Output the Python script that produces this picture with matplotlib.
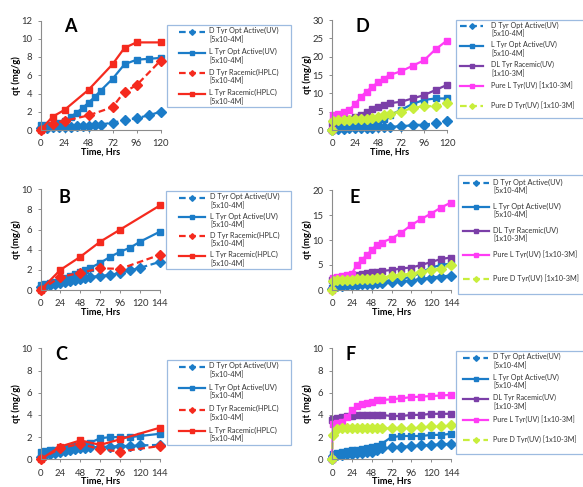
import numpy as np
import matplotlib
matplotlib.use('Agg')
import matplotlib.pyplot as plt
from matplotlib.legend_handler import HandlerLine2D
from matplotlib.font_manager import FontProperties

W, H = 583, 487
DPI = 100
plt.rcParams['font.family'] = ['Lato', 'DejaVu Sans']

# ---------------- data ----------------
# Panel A (0-120 h)
A_t_dopt = [0, 6, 12, 18, 24, 30, 36, 42, 48, 54, 60, 72, 84, 96, 108, 120]
A_q_dopt = [0.2, 0.25, 0.3, 0.3, 0.35, 0.35, 0.4, 0.4, 0.45, 0.5, 0.6, 0.8, 1.05, 1.3, 1.6, 2.0]
A_t_lopt = [0, 6, 12, 18, 24, 30, 36, 42, 48, 54, 60, 72, 84, 96, 108, 120]
A_q_lopt = [0.5, 0.55, 0.6, 0.8, 1.0, 1.4, 1.9, 2.4, 3.0, 3.6, 4.3, 5.6, 7.2, 7.7, 7.8, 7.9]
A_t_drac = [0, 12, 24, 48, 72, 84, 96, 120]
A_q_drac = [0, 0.7, 1.0, 1.6, 2.5, 4.2, 4.9, 7.6]
A_t_lrac = [0, 12, 24, 48, 72, 84, 96, 120]
A_q_lrac = [0, 1.45, 2.2, 4.4, 7.2, 9.0, 9.6, 9.6]

# Panel B (0-144 h)
B_t_opt = [0, 6, 12, 18, 24, 30, 36, 42, 48, 54, 60, 72, 84, 96, 108, 120, 144]
B_q_dopt = [0.3, 0.4, 0.5, 0.6, 0.7, 0.8, 0.9, 1.0, 1.1, 1.2, 1.3, 1.4, 1.5, 1.7, 1.95, 2.2, 2.8]
B_q_lopt = [0.5, 0.6, 0.7, 0.8, 1.0, 1.2, 1.4, 1.6, 1.8, 2.0, 2.2, 2.7, 3.3, 3.8, 4.2, 4.8, 5.8]
B_t_rac = [0, 24, 48, 72, 96, 144]
B_q_drac = [0, 1.3, 1.7, 2.15, 2.1, 3.5]
B_q_lrac = [0, 2.0, 3.3, 4.8, 6.0, 8.4]

# Panel C (0-144 h)
C_t_opt = [0, 6, 12, 18, 24, 30, 36, 42, 48, 54, 60, 72, 84, 96, 108, 120, 144]
C_q_dopt = [0.25, 0.35, 0.45, 0.55, 0.65, 0.75, 0.85, 0.9, 1.0, 1.05, 1.1, 1.1, 1.15, 1.2, 1.2, 1.25, 1.3]
C_q_lopt = [0.7, 0.75, 0.8, 0.85, 0.9, 1.0, 1.1, 1.2, 1.3, 1.4, 1.5, 1.9, 2.0, 2.0, 2.0, 2.1, 2.3]
C_t_rac = [0, 24, 48, 72, 96, 144]
C_q_drac = [0, 1.0, 1.4, 0.9, 0.7, 1.2]
C_q_lrac = [0, 1.15, 1.7, 1.3, 1.8, 2.85]

# Panel D (0-120 h)
D_t = [0, 1, 6, 12, 18, 24, 30, 36, 42, 48, 54, 60, 72, 84, 96, 108, 120]
D_q_dopt = [0, 0.3, 0.4, 0.4, 0.5, 0.5, 0.5, 0.6, 0.6, 0.7, 0.8, 0.9, 1.0, 1.3, 1.5, 1.8, 2.5]
D_q_lopt = [0, 0.5, 0.8, 1.0, 1.2, 1.5, 1.7, 2.0, 2.2, 2.5, 3.0, 4.0, 5.5, 7.1, 8.2, 8.6, 8.6]
D_q_dl = [2.0, 2.5, 2.6, 2.8, 3.0, 3.5, 4.2, 5.0, 5.6, 6.2, 6.8, 7.3, 7.7, 8.6, 9.5, 10.9, 12.3]
D_q_pl = [0, 4.0, 4.3, 4.8, 5.5, 7.0, 9.0, 10.5, 11.8, 13.0, 14.0, 15.0, 16.0, 17.5, 19.0, 22.0, 24.4]
D_q_pd = [0, 2.5, 2.7, 2.8, 2.8, 2.9, 3.0, 3.1, 3.3, 3.6, 4.0, 4.5, 5.0, 6.0, 6.5, 6.5, 7.3]

# Panel E (0-144 h)
E_t = [0, 1, 6, 12, 18, 24, 30, 36, 42, 48, 54, 60, 72, 84, 96, 108, 120, 132, 144]
E_q_dopt = [0.3, 0.5, 0.8, 0.9, 1.0, 1.0, 1.1, 1.2, 1.2, 1.3, 1.4, 1.5, 1.6, 1.8, 1.9, 2.2, 2.5, 2.7, 2.9]
E_q_lopt = [0.5, 0.7, 0.9, 1.0, 1.1, 1.3, 1.4, 1.4, 1.5, 1.5, 1.6, 1.7, 2.0, 2.3, 2.6, 3.5, 4.5, 5.0, 5.3]
E_q_dl = [2.0, 2.3, 2.5, 2.6, 2.8, 3.0, 3.1, 3.3, 3.4, 3.6, 3.7, 3.8, 4.0, 4.3, 4.5, 5.0, 5.6, 6.2, 6.5]
E_q_pl = [0, 2.5, 2.7, 2.8, 3.0, 3.3, 5.0, 6.0, 7.0, 8.0, 9.0, 9.5, 10.3, 11.5, 13.0, 14.2, 15.3, 16.5, 17.5]
E_q_pd = [0, 1.8, 2.0, 2.0, 2.1, 2.1, 2.2, 2.2, 2.3, 2.3, 2.4, 2.5, 2.8, 3.0, 3.3, 3.6, 4.0, 4.3, 5.0]

# Panel F (0-144 h)
F_t = [0, 1, 6, 12, 18, 24, 30, 36, 42, 48, 54, 60, 72, 84, 96, 108, 120, 132, 144]
F_q_dopt = [0, 0.3, 0.35, 0.4, 0.45, 0.5, 0.55, 0.6, 0.65, 0.7, 0.8, 1.0, 1.1, 1.15, 1.2, 1.25, 1.3, 1.35, 1.4]
F_q_lopt = [0, 0.5, 0.6, 0.7, 0.75, 0.8, 0.85, 0.9, 1.0, 1.1, 1.2, 1.4, 2.0, 2.1, 2.1, 2.1, 2.2, 2.2, 2.3]
F_q_dl = [3.5, 3.6, 3.7, 3.8, 3.9, 3.9, 4.0, 4.0, 4.0, 4.0, 4.0, 4.0, 3.9, 3.9, 4.0, 4.0, 4.1, 4.1, 4.1]
F_q_pl = [0, 3.2, 3.3, 3.4, 3.8, 4.4, 4.8, 5.0, 5.1, 5.2, 5.3, 5.35, 5.4, 5.5, 5.6, 5.65, 5.7, 5.75, 5.8]
F_q_pd = [0, 2.2, 2.7, 2.8, 2.8, 2.8, 2.8, 2.8, 2.8, 2.8, 2.8, 2.8, 2.8, 2.8, 2.8, 2.9, 3.0, 3.0, 3.1]

labels_left = ["D Tyr Opt Active(UV)\n[5x10-4M]", "L Tyr Opt Active(UV)\n[5x10-4M]",
               "D Tyr Racemic(HPLC)\n[5x10-4M]", "L Tyr Racemic(HPLC)\n[5x10-4M]"]
labels_right = ["D Tyr Opt Active(UV)\n[5x10-4M]", "L Tyr Opt Active(UV)\n[5x10-4M]",
                "DL Tyr Racemic(UV)\n[1x10-3M]", "Pure L Tyr(UV) [1x10-3M]\n",
                "Pure D Tyr(UV) [1x10-3M]\n"]

BLUE = '#1B7CC8'
RED = '#F52A1E'
PURPLE = '#7B3FA8'
MAGENTA = '#FF3CF5'
LIME = '#C8EE3C'
GRAY = '#8C8C8C'
TXT = '#333333'

fig = plt.figure(figsize=(W / DPI, H / DPI), dpi=DPI)
renderer = fig.canvas.get_renderer()


def px_axes(l, t, r, b):
    return fig.add_axes([l / W, 1 - b / H, (r - l) / W, (b - t) / H])


def style_axes(ax, xmax, xticks, ymax, yticks, ylabel_x, xlabel_top):
    ax.set_xlim(0, xmax)
    ax.set_ylim(0, ymax)
    ax.set_xticks(xticks)
    ax.set_yticks(yticks)
    for s in ['top', 'right']:
        ax.spines[s].set_visible(False)
    for s in ['left', 'bottom']:
        ax.spines[s].set_color(GRAY)
        ax.spines[s].set_linewidth(0.8)
    ax.tick_params(axis='both', direction='out', length=2.2, width=0.7, color=GRAY,
                   labelsize=6.8, labelcolor=TXT)
    ax.tick_params(axis='x', pad=4.5)
    ax.tick_params(axis='y', pad=4)
    ax.set_ylabel('qt (mg/g)', fontsize=6.8, fontweight='bold')
    ax.set_xlabel('Time, Hrs', fontsize=6.6, fontweight='bold')
    pos = ax.get_position()
    ax.yaxis.set_label_coords(ylabel_x / W, pos.y0 + pos.height / 2, transform=fig.transFigure)
    ax.xaxis.set_label_coords(pos.x0 + pos.width / 2, 1 - xlabel_top / H, transform=fig.transFigure)
    ax.patch.set_alpha(0)


class ShiftHandler(HandlerLine2D):
    def __init__(self, dx, dy, **kw):
        super().__init__(**kw)
        self.dx = dx
        self.dy = dy

    def create_artists(self, legend, orig_handle, xdescent, ydescent, width, height,
                       fontsize, trans):
        return super().create_artists(legend, orig_handle, xdescent - self.dx,
                                      ydescent - 2 * self.dy, width - self.dx, height,
                                      fontsize, trans)


def add_legend(handles, labels, box, fs, lspace, pad_l, hlen, gap, bpad):
    l, t, r, b = box
    fp = FontProperties(family=['Lato', 'DejaVu Sans'], size=fs)
    w_, h_, d_ = renderer.get_text_width_height_descent('lp', fp, ismath=False)
    asc_pt = (h_ - d_) * 72 / DPI
    dy = 0.5 * asc_pt * 1.2
    px2pt = 72 / DPI
    dx_pt = pad_l * px2pt - bpad * fs
    handlelength = (dx_pt + hlen * px2pt) / fs
    hmap = {}
    for hd, lb in zip(handles, labels):
        hmap[hd] = ShiftHandler(dx_pt, dy if '\n' in lb else 0, numpoints=1)
    leg = fig.legend(handles, labels, loc='upper left',
                     bbox_to_anchor=(l / W, 1 - t / H - 0.01, (r - l) / W, 0.01),
                     bbox_transform=fig.transFigure, mode='expand', borderaxespad=0,
                     prop=fp, labelspacing=lspace, handlelength=handlelength,
                     handletextpad=gap * px2pt / fs, borderpad=bpad, markerscale=0.55,
                     frameon=True, fancybox=False, handler_map=hmap,
                     labelcolor=TXT)
    fr = leg.get_frame()
    fr.set_edgecolor('#9DBBE0')
    fr.set_linewidth(0.9)
    fr.set_facecolor('white')
    fr.set_alpha(1)
    return leg


def series(ax, t, q, color, marker, dashed):
    ls = (0, (3, 1.6)) if dashed else '-'
    ms = 5.0 if marker == 's' else 5.2
    ln, = ax.plot(t, q, color=color, lw=1.6, linestyle=ls, marker=marker, ms=ms,
                  mec=color, mfc=color, clip_on=False)
    return ln


# ---------- Panel A ----------
axA = px_axes(40.5, 20.5, 160.5, 130)
hA = [series(axA, A_t_dopt, A_q_dopt, BLUE, 'D', True),
      series(axA, A_t_lopt, A_q_lopt, BLUE, 's', False),
      series(axA, A_t_drac, A_q_drac, RED, 'D', True),
      series(axA, A_t_lrac, A_q_lrac, RED, 's', False)]
style_axes(axA, 120, np.arange(0, 121, 24), 12, np.arange(0, 13, 2), 21, 148)
add_legend(hA, labels_left, (167, 25, 291, 117), 5.3, 0.65, 12, 26, 4, 0.3)

# ---------- Panel B ----------
axB = px_axes(40.5, 189.3, 160, 290)
hB = [series(axB, B_t_opt, B_q_dopt, BLUE, 'D', True),
      series(axB, B_t_opt, B_q_lopt, BLUE, 's', False),
      series(axB, B_t_rac, B_q_drac, RED, 'D', True),
      series(axB, B_t_rac, B_q_lrac, RED, 's', False)]
style_axes(axB, 144, np.arange(0, 145, 24), 10, np.arange(0, 11, 2), 21, 308)
add_legend(hB, labels_left, (166, 191, 291, 277), 5.3, 0.45, 13, 26, 5, 0.3)

# ---------- Panel C ----------
axC = px_axes(40.5, 348.3, 160, 459.3)
hC = [series(axC, C_t_opt, C_q_dopt, BLUE, 'D', True),
      series(axC, C_t_opt, C_q_lopt, BLUE, 's', False),
      series(axC, C_t_rac, C_q_drac, RED, 'D', True),
      series(axC, C_t_rac, C_q_lrac, RED, 's', False)]
style_axes(axC, 144, np.arange(0, 145, 24), 10, np.arange(0, 11, 2), 21, 477)
add_legend(hC, labels_left, (167, 360, 291, 448), 5.3, 0.75, 12, 26, 4, 0.3)

# ---------- Panel D ----------
axD = px_axes(332, 20, 447, 130)
hD = [series(axD, D_t, D_q_dopt, BLUE, 'D', True),
      series(axD, D_t, D_q_lopt, BLUE, 's', False),
      series(axD, D_t, D_q_dl, PURPLE, 's', False),
      series(axD, D_t, D_q_pl, MAGENTA, 's', False),
      series(axD, D_t, D_q_pd, LIME, 'D', True)]
style_axes(axD, 120, np.arange(0, 121, 24), 30, np.arange(0, 31, 5), 312, 148)
add_legend(hD, labels_right, (456, 20, 584, 120), 5.1, 0.55, 4, 23, 8, 0.2)

# ---------- Panel E ----------
axE = px_axes(332, 190, 451, 290)
hE = [series(axE, E_t, E_q_dopt, BLUE, 'D', True),
      series(axE, E_t, E_q_lopt, BLUE, 's', False),
      series(axE, E_t, E_q_dl, PURPLE, 's', False),
      series(axE, E_t, E_q_pl, MAGENTA, 's', False),
      series(axE, E_t, E_q_pd, LIME, 'D', True)]
style_axes(axE, 144, np.arange(0, 145, 24), 20, np.arange(0, 21, 5), 312, 308)
add_legend(hE, labels_right, (458, 175, 584, 297), 5.3, 1.1, 5, 26, 4, 0.45)

# ---------- Panel F ----------
axF = px_axes(332, 348.3, 451, 459.3)
hF = [series(axF, F_t, F_q_dopt, BLUE, 'D', True),
      series(axF, F_t, F_q_lopt, BLUE, 's', False),
      series(axF, F_t, F_q_dl, PURPLE, 's', False),
      series(axF, F_t, F_q_pl, MAGENTA, 's', False),
      series(axF, F_t, F_q_pd, LIME, 'D', True)]
style_axes(axF, 144, np.arange(0, 145, 24), 10, np.arange(0, 11, 2), 312, 477)
add_legend(hF, labels_right, (456, 351, 584, 455), 5.1, 0.65, 7, 25, 5, 0.3)

# panel letters
for letter, x, y in [('A', 70, 27), ('B', 64.5, 198), ('C', 61.5, 355),
                     ('D', 362, 27), ('E', 355, 198), ('F', 351, 355)]:
    fig.text(x / W, 1 - y / H, letter, ha='center', va='center', fontsize=13,
             fontweight='bold', color='black')

fig.savefig('out.png', dpi=DPI)
